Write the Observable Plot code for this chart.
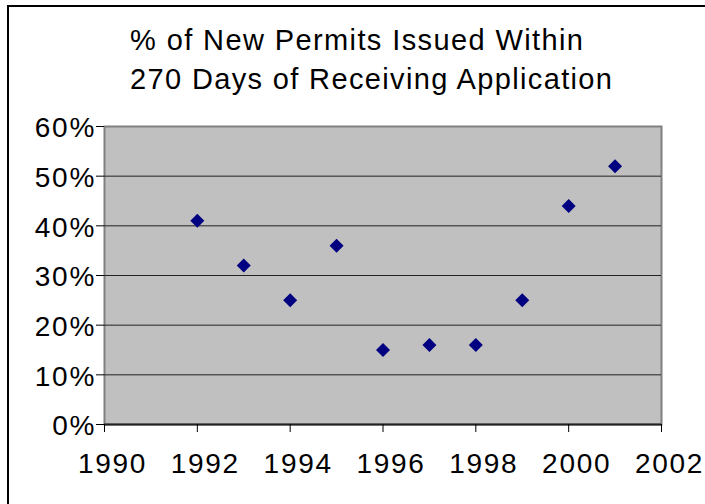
<!DOCTYPE html>
<html>
<head>
<meta charset="utf-8">
<script src="https://cdn.jsdelivr.net/npm/d3@7"></script>
<script src="https://cdn.jsdelivr.net/npm/@observablehq/plot@0.6"></script>
<style>
  html, body { margin: 0; padding: 0; background: #fff; }
  #wrap { position: relative; width: 705px; height: 504px; overflow: hidden; background: #fff; }
  #border { position: absolute; left: 7px; top: 5px; width: 760px; height: 560px; border: 2px solid #000; box-sizing: border-box; }
  #title { position: absolute; left: 0; top: 0; }
  #chart { position: absolute; left: 0; top: 0; }
  .chart [aria-label$="tick label"] { letter-spacing: 1.7px; }
</style>
</head>
<body>
<div id="wrap">
  <div id="border"></div>
  <div id="chart"></div>
  <svg id="title" width="705" height="110" font-family="'Liberation Sans', Arial, sans-serif" font-size="29" fill="#000">
    <text id="t1" x="130" y="49.5" textLength="453" lengthAdjust="spacing"></text>
    <text id="t2" x="130" y="89" textLength="482" lengthAdjust="spacing"></text>
  </svg>
</div>
<script>
const titleLines = ["% of New Permits Issued Within", "270 Days of Receiving Application"];
const years = [1992, 1993, 1994, 1995, 1996, 1997, 1998, 1999, 2000, 2001];
const pctValues = [0.41, 0.32, 0.25, 0.36, 0.15, 0.16, 0.16, 0.25, 0.44, 0.52];
const xTicks = [1990, 1992, 1994, 1996, 1998, 2000, 2002];
const yTicks = [0, 0.1, 0.2, 0.3, 0.4, 0.5, 0.6];
const gridLines = [0.1, 0.2, 0.3, 0.4, 0.5];

document.getElementById("t1").textContent = titleLines[0];
document.getElementById("t2").textContent = titleLines[1];

const data = years.map((y, i) => ({year: y, pct: pctValues[i]}));

const chart = Plot.plot({
  width: 705,
  height: 504,
  marginTop: 126,
  marginLeft: 104,
  marginRight: 44,
  marginBottom: 80,
  className: "chart",
  style: {
    fontFamily: "'Liberation Sans', Arial, sans-serif",
    fontSize: "28px",
    color: "#000",
    background: "transparent",
    overflow: "visible"
  },
  x: {domain: [1990, 2002]},
  y: {domain: [0, 0.6]},
  marks: [
    Plot.frame({fill: "#C0C0C0", stroke: "#808080", strokeWidth: 2}),
    Plot.ruleY(gridLines, {stroke: "#222", strokeWidth: 1}),
    Plot.ruleY([0], {stroke: "#222", strokeWidth: 2}),
    // tick marks only
    Plot.axisY({ticks: yTicks, tickSize: 8, tickFormat: () => "", label: null}),
    Plot.axisX({ticks: xTicks, tickSize: 8, tickFormat: () => "", label: null}),
    // tick labels only
    Plot.axisY({ticks: yTicks, tickSize: 0, tickPadding: 8.5, dy: 2, tickFormat: d3.format(".0%"), label: null, fontSize: 28}),
    Plot.axisX({ticks: xTicks, tickSize: 0, tickPadding: 29, dx: 8, tickFormat: d => String(d), label: null, fontSize: 28}),
    Plot.dot(data, {x: "year", y: "pct", symbol: "diamond2", r: 6.3, fill: "#000080", stroke: "none"})
  ]
});
document.getElementById("chart").appendChild(chart);
</script>
</body>
</html>
